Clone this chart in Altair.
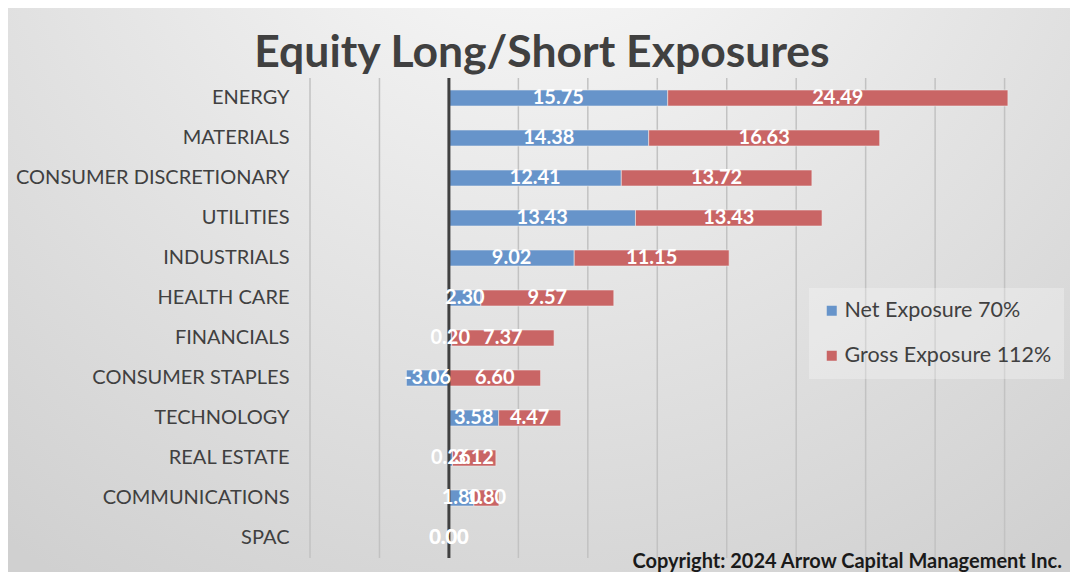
import altair as alt
import pandas as pd

categories = ["ENERGY", "MATERIALS", "CONSUMER DISCRETIONARY", "UTILITIES", "INDUSTRIALS",
              "HEALTH CARE", "FINANCIALS", "CONSUMER STAPLES", "TECHNOLOGY", "REAL ESTATE",
              "COMMUNICATIONS", "SPAC"]
net = [15.75, 14.38, 12.41, 13.43, 9.02, 2.30, 0.20, -3.06, 3.58, 0.26, 1.80, 0.00]
gross = [24.49, 16.63, 13.72, 13.43, 11.15, 9.57, 7.37, 6.60, 4.47, 3.12, 1.80, 0.00]
series_names = ["Net Exposure 70%", "Gross Exposure 112%"]
colors = ["#6794CA", "#C96565"]
grid_values = [-10, -5, 0, 5, 10, 15, 20, 25, 30, 35, 40]
title_text = "Equity Long/Short Exposures"
copyright_text = "Copyright: 2024 Arrow Capital Management Inc."

rows = []
for c, n, g in zip(categories, net, gross):
    rows.append(dict(cat=c, series=series_names[0], start=0.0, end=n, value=n))
    s = max(n, 0.0)
    rows.append(dict(cat=c, series=series_names[1], start=s, end=s + g, value=g))
df = pd.DataFrame(rows)
df["mid"] = (df["start"] + df["end"]) / 2
df["label"] = df["value"].map(lambda v: f"{v:.2f}")

PLOT_W, PLOT_H = 760, 480
PAD = {"left": 302, "top": 70, "right": 0, "bottom": 14}

xscale = alt.Scale(domain=[-10, 44.71], nice=False, zero=False)
yenc = alt.Y("cat:N", sort=categories, title=None,
             scale=alt.Scale(paddingInner=0.6, paddingOuter=0.3),
             axis=alt.Axis(labelFont="Lato", labelFontSize=20, labelColor="#404040",
                           ticks=False, domain=False, grid=False, labelPadding=21,
                           labelLimit=400, zindex=2))

bg = alt.Chart(alt.Data(values=[{"a": 1}])).mark_rect(
    fill=alt.Gradient(gradient="radial",
                      stops=[alt.GradientStop(color="#fdfdfd", offset=0),
                             alt.GradientStop(color="#e6e6e6", offset=0.5),
                             alt.GradientStop(color="#d0d0d0", offset=1)],
                      x1=0.5, y1=0.05, r1=0, x2=0.5, y2=0.05, r2=0.85)
).encode(x=alt.value(-PAD["left"]), x2=alt.value(PLOT_W + PAD["right"]),
         y=alt.value(-PAD["top"]), y2=alt.value(PLOT_H + PAD["bottom"]))

grid = alt.Chart(pd.DataFrame({"g": grid_values})).mark_rule(
    color="#c2c2c2", strokeWidth=1.5
).encode(x=alt.X("g:Q", scale=xscale,
                 axis=alt.Axis(labels=False, ticks=False, domain=False, grid=False, title=None)))

bars = alt.Chart(df).mark_bar(stroke="#eeeeee", strokeWidth=0.8, strokeOpacity=0.7).encode(
    x=alt.X("start:Q", scale=xscale, title=None),
    x2="end:Q",
    y=yenc,
    color=alt.Color("series:N", scale=alt.Scale(domain=series_names, range=colors),
                    legend=alt.Legend(title=None, orient="none", legendX=499, legendY=210,
                                      symbolType="square", symbolSize=100,
                                      symbolStrokeWidth=0, labelOffset=2,
                                      labelFont="Lato", labelFontSize=21.5,
                                      labelColor="#404040", labelLimit=400,
                                      rowPadding=22, padding=12,
                                      fillColor="rgba(255,255,255,0.28)")),
)

zero = alt.Chart(alt.Data(values=[{"z": 0}])).mark_rule(color="#404040", strokeWidth=3).encode(
    x=alt.X("z:Q", scale=xscale))

labels = alt.Chart(df).mark_text(color="white", font="Lato", fontSize=20, fontWeight="bold",
                                 baseline="middle").encode(
    x=alt.X("mid:Q", scale=xscale),
    y=alt.Y("cat:N", sort=categories),
    text="label:N",
)

title = alt.Chart(alt.Data(values=[{"t": title_text}])).mark_text(
    align="center", baseline="alphabetic", font="Lato", fontSize=44.5, fontWeight="bold",
    color="#404040"
).encode(x=alt.value(232), y=alt.value(-11), text="t:N")

copyright = alt.Chart(alt.Data(values=[{"t": copyright_text}])).mark_text(
    align="right", baseline="alphabetic", font="Lato", fontSize=20, fontWeight="bold",
    color="#1a1a1a"
).encode(x=alt.value(752), y=alt.value(490), text="t:N")

chart = alt.layer(bg, grid, bars, zero, labels, title, copyright).properties(
    width=PLOT_W, height=PLOT_H,
    autosize=alt.AutoSizeParams(type="none"),
    padding=PAD,
).configure_view(stroke=None).configure(background="#d8d8d8")

chart.save("out.html", embed_options={"renderer": "svg", "actions": False})
